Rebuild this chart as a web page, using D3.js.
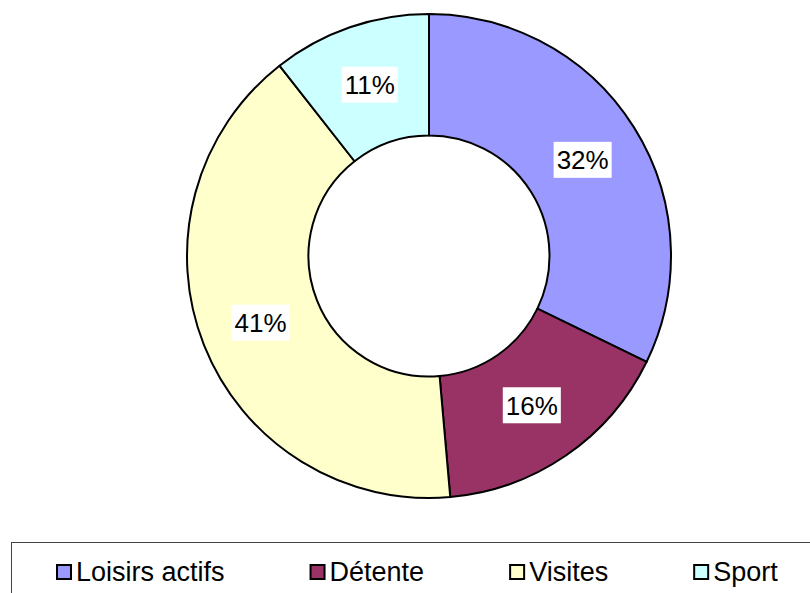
<!DOCTYPE html>
<html>
<head>
<meta charset="utf-8">
<script src="https://cdn.jsdelivr.net/npm/d3@7"></script>
<style>
  body { margin: 0; background: #fff; }
  text { font-family: Arial, "Liberation Sans", sans-serif; }
</style>
</head>
<body>
<div id="chart"></div>
<script>
// data
var categories = ["Loisirs actifs", "Détente", "Visites", "Sport"];
var values = [32.2, 16.4, 40.8, 10.6];
var colors = ["#9999ff", "#993366", "#ffffcc", "#ccffff"];

// set dimensions
var width = 810, height = 593;
var cx = 429, cy = 256;
var outerR = 242, innerR = 120.5;

var svg = d3.select("#chart")
            .append("svg")
            .attr("width", width)
            .attr("height", height);

var total = d3.sum(values);
var pie = d3.pie().sort(null).value(function(d){ return d.value; });
var arc = d3.arc().innerRadius(innerR).outerRadius(outerR);
var labelArc = d3.arc().innerRadius((innerR + outerR) / 2).outerRadius((innerR + outerR) / 2);

var data = categories.map(function(c, i){
  return {name: c, value: values[i], color: colors[i]};
});

var g = svg.append("g")
           .attr("transform", "translate(" + cx + "," + cy + ")");

// slices
g.selectAll("path")
  .data(pie(data))
  .enter()
  .append("path")
  .attr("d", arc)
  .attr("fill", function(d){ return d.data.color; })
  .attr("stroke", "#000")
  .attr("stroke-width", 2)
  .attr("stroke-linejoin", "round");

// labels with white background
var labels = g.selectAll("g.label")
  .data(pie(data))
  .enter()
  .append("g")
  .attr("class", "label")
  .attr("transform", function(d){ return "translate(" + labelArc.centroid(d) + ")"; });

labels.append("rect")
  .attr("fill", "#fff");

labels.append("text")
  .attr("text-anchor", "middle")
  .attr("dy", "0.36em")
  .attr("font-size", "26px")
  .attr("fill", "#000")
  .text(function(d){ return Math.round(d.data.value / total * 100) + "%"; });

labels.each(function(){
  var t = d3.select(this).select("text");
  var w = t.node().getComputedTextLength() + 6;
  d3.select(this).select("rect")
    .attr("x", -w / 2)
    .attr("y", -18)
    .attr("width", w)
    .attr("height", 36);
});

// legend
var legend = svg.append("g");
legend.append("rect")
  .attr("x", 11.5)
  .attr("y", 542.5)
  .attr("width", 830)
  .attr("height", 80)
  .attr("fill", "#fff")
  .attr("stroke", "#444")
  .attr("stroke-width", 1);

var lx = 56;
data.forEach(function(d){
  var item = legend.append("g");
  item.append("rect")
    .attr("x", lx + 1)
    .attr("y", 565)
    .attr("width", 14)
    .attr("height", 14)
    .attr("fill", d.color)
    .attr("stroke", "#000")
    .attr("stroke-width", 2);
  var t = item.append("text")
    .attr("x", lx + 20)
    .attr("y", 581)
    .attr("font-size", "27px")
    .attr("fill", "#000")
    .text(d.name);
  lx = lx + 20 + t.node().getComputedTextLength() + 85;
});
</script>
</body>
</html>
